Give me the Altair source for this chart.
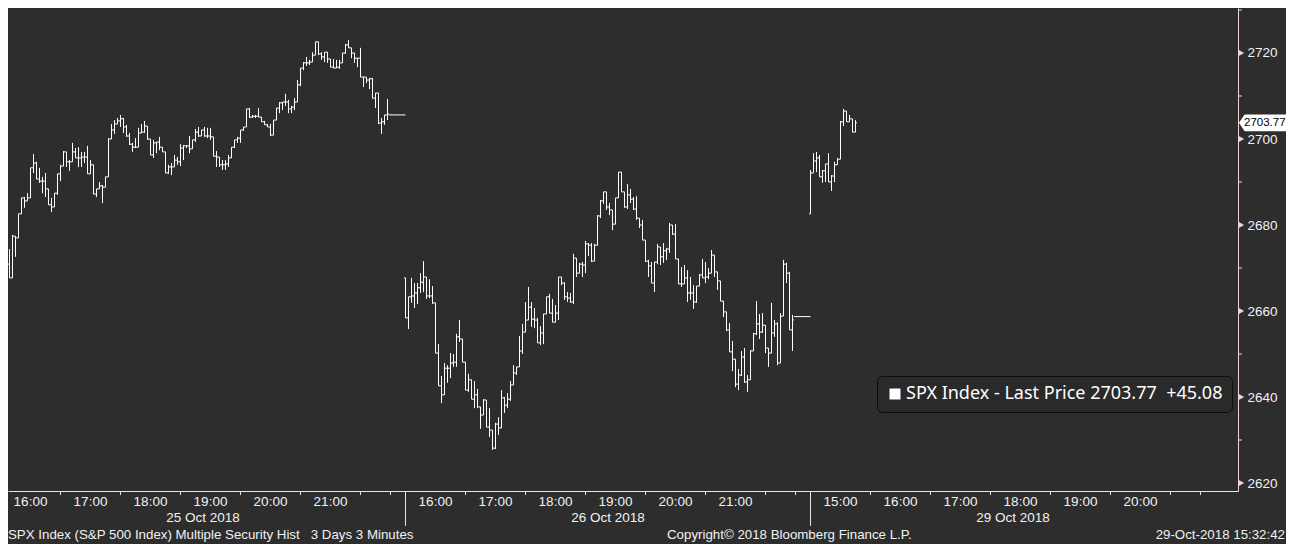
import altair as alt
import pandas as pd

# ---------------- data ----------------
DAYS = ["25 Oct 2018", "26 Oct 2018", "29 Oct 2018"]
DAY_START = ["15:30", "15:30", "14:30"]          # session start (local time)
DAY_OFFSET = [0, 405, 810]                       # minutes on the compressed time axis
BAR_MIN = 3

TIME_LABELS = [
    ["16:00", "17:00", "18:00", "19:00", "20:00", "21:00"],
    ["16:00", "17:00", "18:00", "19:00", "20:00", "21:00"],
    ["15:00", "16:00", "17:00", "18:00", "19:00", "20:00"],
]
TICK_TIMES = [
    ["16:30", "17:30", "18:30", "19:30", "20:30", "21:30", "22:00"],
    ["16:30", "17:30", "18:30", "19:30", "20:30", "21:30", "22:00"],
    ["15:30", "16:30", "17:30", "18:30", "19:30", "20:30", "21:00"],
]

D1_OPEN = 2675.3
D1_HIGH = [2680.5, 2676.5, 2676.5, 2674.4, 2677.7, 2677.2, 2682.6, 2686.3, 2686.5, 2687.4,
           2693.3, 2696.5, 2694.7, 2693.3, 2691.2, 2692.1, 2688.4, 2686.3, 2687.4, 2691.9,
           2694.0, 2697.2, 2697.0, 2695.1, 2699.1, 2697.9, 2698.1, 2697.0, 2697.0, 2698.4,
           2695.1, 2694.0, 2688.4, 2690.0, 2689.3, 2691.2, 2700.2, 2703.5, 2704.4, 2704.9,
           2705.6, 2704.9, 2703.3, 2701.4, 2699.1, 2700.2, 2702.6, 2703.5, 2704.2, 2703.0,
           2700.0, 2699.8, 2699.3, 2700.5, 2698.1, 2697.0, 2694.0, 2694.4, 2696.3, 2695.8,
           2698.8, 2698.6, 2698.6, 2700.7, 2699.8, 2702.3, 2702.8, 2702.1, 2702.8, 2702.6,
           2702.6, 2700.5, 2697.2, 2695.8, 2695.1, 2695.1, 2696.3, 2698.1, 2699.8, 2700.5,
           2702.1, 2702.8, 2707.0, 2707.2, 2705.6, 2705.6, 2707.2, 2705.1, 2704.2, 2703.5,
           2703.5, 2704.4, 2707.2, 2708.6, 2708.6, 2710.5, 2709.1, 2707.7, 2709.5, 2713.7,
           2716.5, 2717.9, 2719.1, 2718.4, 2720.2, 2722.6, 2722.6, 2720.2, 2720.2, 2720.2,
           2718.6, 2718.6, 2718.4, 2718.4, 2720.0, 2722.1, 2723.0, 2721.2, 2720.0, 2718.8,
           2721.2, 2714.4, 2714.4, 2714.2, 2714.2, 2710.7, 2710.7, 2704.9, 2705.6, 2709.3]
D1_LOW = [2671.4, 2668.1, 2670.7, 2667.7, 2667.7, 2672.6, 2677.0, 2682.6, 2684.0, 2685.6,
          2686.3, 2692.1, 2690.7, 2689.8, 2687.4, 2686.5, 2684.7, 2683.0, 2684.2, 2687.0,
          2690.2, 2693.7, 2693.5, 2692.6, 2694.7, 2695.6, 2693.5, 2693.5, 2694.4, 2691.9,
          2691.9, 2687.2, 2686.5, 2688.4, 2685.1, 2688.8, 2691.2, 2700.0, 2701.2, 2703.5,
          2702.8, 2701.4, 2700.5, 2698.6, 2697.0, 2697.9, 2698.1, 2701.4, 2701.4, 2699.8,
          2696.3, 2695.6, 2696.7, 2697.4, 2697.0, 2692.1, 2691.9, 2691.6, 2693.5, 2694.0,
          2693.7, 2695.1, 2697.9, 2696.7, 2697.7, 2699.3, 2700.5, 2700.7, 2700.5, 2700.2,
          2699.8, 2696.0, 2693.5, 2693.5, 2692.8, 2692.8, 2693.5, 2695.6, 2697.9, 2699.1,
          2699.1, 2701.9, 2702.8, 2704.9, 2704.9, 2704.9, 2705.1, 2704.0, 2703.3, 2702.8,
          2700.7, 2700.9, 2704.4, 2706.0, 2706.7, 2707.7, 2706.0, 2706.0, 2706.7, 2708.6,
          2712.3, 2716.0, 2717.0, 2717.2, 2717.9, 2719.5, 2719.5, 2718.4, 2717.9, 2717.7,
          2716.7, 2716.5, 2716.5, 2716.3, 2717.7, 2719.8, 2721.2, 2718.8, 2717.7, 2716.7,
          2714.4, 2712.1, 2713.0, 2711.6, 2709.5, 2707.2, 2703.5, 2701.2, 2703.3, 2704.4]
D1_CLOSE = [2673.5, 2673.7, 2670.9, 2667.7, 2677.4, 2677.0, 2682.6, 2686.3, 2685.6, 2686.3,
            2693.3, 2694.4, 2690.7, 2690.2, 2690.2, 2688.4, 2684.7, 2684.2, 2687.4, 2691.9,
            2693.7, 2697.0, 2694.7, 2694.7, 2697.0, 2695.6, 2695.6, 2695.8, 2695.8, 2691.9,
            2694.0, 2687.2, 2688.4, 2689.1, 2688.8, 2691.2, 2700.0, 2702.1, 2703.5, 2704.2,
            2704.7, 2702.8, 2700.7, 2698.8, 2698.1, 2698.1, 2701.4, 2701.6, 2703.0, 2700.0,
            2696.3, 2699.1, 2699.3, 2698.1, 2697.0, 2692.1, 2693.5, 2693.5, 2695.1, 2694.7,
            2697.9, 2698.4, 2698.4, 2697.7, 2699.8, 2701.6, 2700.7, 2702.1, 2700.7, 2700.7,
            2700.5, 2696.0, 2695.8, 2694.0, 2694.0, 2694.2, 2695.6, 2698.1, 2699.8, 2700.2,
            2702.1, 2702.8, 2707.0, 2705.1, 2705.3, 2705.3, 2705.1, 2704.0, 2703.3, 2702.8,
            2700.9, 2704.4, 2707.2, 2708.4, 2708.6, 2708.6, 2707.0, 2707.4, 2708.6, 2712.6,
            2716.5, 2717.7, 2717.7, 2717.9, 2719.5, 2722.6, 2719.8, 2719.1, 2720.2, 2718.6,
            2716.7, 2716.5, 2716.7, 2717.7, 2720.0, 2721.9, 2721.2, 2720.0, 2718.8, 2718.8,
            2714.4, 2714.4, 2713.7, 2714.0, 2709.5, 2710.7, 2703.7, 2704.0, 2705.6, 2705.8]

D2_OPEN = 2667.7
D2_HIGH = [2667.7, 2663.3, 2667.7, 2666.5, 2666.5, 2668.8, 2671.6, 2667.9, 2667.4, 2665.8,
           2661.9, 2652.3, 2644.9, 2647.9, 2647.4, 2650.2, 2650.0, 2654.7, 2657.9, 2653.5,
           2648.1, 2645.4, 2644.0, 2643.7, 2641.9, 2637.7, 2639.5, 2639.3, 2637.4, 2632.3,
           2634.0, 2635.3, 2641.6, 2640.0, 2640.9, 2643.7, 2647.4, 2647.0, 2654.2, 2657.0,
           2662.1, 2665.6, 2662.1, 2660.7, 2658.4, 2656.5, 2659.3, 2663.3, 2664.0, 2662.8,
           2661.4, 2667.9, 2667.9, 2666.7, 2664.4, 2664.2, 2673.3, 2672.3, 2671.2, 2671.4,
           2676.3, 2675.8, 2675.8, 2675.6, 2682.3, 2685.8, 2687.7, 2687.7, 2685.1, 2683.5,
           2686.3, 2692.3, 2692.3, 2687.7, 2689.5, 2688.4, 2686.5, 2686.7, 2681.6, 2681.2,
           2676.5, 2671.9, 2671.4, 2671.4, 2675.6, 2674.9, 2675.8, 2674.7, 2680.5, 2680.0,
           2680.2, 2672.1, 2670.2, 2670.7, 2669.5, 2667.9, 2666.0, 2665.8, 2668.6, 2672.1,
           2671.4, 2670.0, 2674.2, 2673.0, 2669.1, 2667.0, 2662.3, 2659.8, 2657.2, 2653.0,
           2648.8, 2646.5, 2650.7, 2651.4, 2645.1, 2650.9, 2654.9, 2662.3, 2659.3, 2659.5,
           2656.7, 2651.4, 2661.9, 2657.9, 2657.4, 2659.5, 2671.9, 2671.2, 2669.1, 2659.1]
D2_LOW = [2658.4, 2655.8, 2661.9, 2660.7, 2661.6, 2664.2, 2664.4, 2662.8, 2663.0, 2661.6,
          2650.2, 2642.6, 2638.6, 2640.5, 2643.3, 2644.4, 2647.0, 2647.0, 2652.8, 2648.1,
          2641.6, 2641.2, 2639.5, 2637.4, 2637.4, 2632.6, 2635.8, 2633.0, 2630.7, 2627.7,
          2627.9, 2631.2, 2632.8, 2636.3, 2637.4, 2639.1, 2642.8, 2645.1, 2647.0, 2650.0,
          2655.1, 2657.9, 2656.3, 2656.0, 2652.6, 2652.1, 2652.3, 2659.3, 2659.5, 2657.4,
          2657.4, 2657.9, 2666.0, 2662.6, 2662.1, 2661.9, 2661.6, 2667.9, 2668.8, 2667.9,
          2668.8, 2672.8, 2671.4, 2671.6, 2675.3, 2681.6, 2684.9, 2683.5, 2682.3, 2678.8,
          2680.2, 2686.3, 2687.7, 2684.0, 2683.7, 2685.1, 2683.5, 2681.2, 2679.3, 2676.5,
          2671.4, 2667.9, 2666.5, 2664.4, 2670.9, 2670.7, 2671.2, 2671.9, 2673.5, 2677.7,
          2672.1, 2666.3, 2665.6, 2666.3, 2662.1, 2662.6, 2660.5, 2661.9, 2665.8, 2667.7,
          2666.5, 2667.4, 2668.8, 2667.9, 2664.9, 2662.3, 2658.6, 2655.3, 2650.5, 2646.0,
          2642.3, 2641.6, 2644.9, 2643.3, 2641.2, 2644.0, 2650.7, 2654.4, 2653.5, 2654.9,
          2650.2, 2647.0, 2650.2, 2654.0, 2647.4, 2647.9, 2658.8, 2666.5, 2655.6, 2650.7]
D2_CLOSE = [2658.4, 2663.3, 2663.5, 2664.2, 2665.4, 2666.7, 2667.9, 2663.5, 2663.5, 2661.9,
            2650.2, 2642.6, 2640.5, 2646.7, 2646.7, 2647.9, 2648.1, 2654.0, 2653.5, 2648.1,
            2641.6, 2644.0, 2639.5, 2640.5, 2637.7, 2635.8, 2639.3, 2633.0, 2632.3, 2628.1,
            2633.7, 2632.8, 2639.8, 2638.1, 2639.5, 2642.8, 2645.6, 2647.0, 2650.7, 2655.1,
            2657.9, 2660.9, 2658.1, 2657.9, 2652.6, 2654.9, 2659.3, 2663.3, 2659.5, 2657.4,
            2659.5, 2667.9, 2666.5, 2663.3, 2663.0, 2662.1, 2672.3, 2668.8, 2670.9, 2670.7,
            2675.6, 2675.3, 2671.6, 2675.3, 2682.1, 2685.6, 2687.7, 2684.2, 2683.5, 2680.2,
            2686.3, 2692.3, 2687.7, 2684.2, 2687.0, 2686.0, 2683.7, 2681.6, 2680.0, 2676.5,
            2671.6, 2670.5, 2666.5, 2671.4, 2674.9, 2672.6, 2674.0, 2674.4, 2680.0, 2677.9,
            2672.1, 2666.3, 2666.3, 2667.7, 2664.2, 2664.2, 2662.1, 2665.8, 2668.4, 2667.7,
            2667.9, 2668.8, 2673.0, 2669.1, 2667.0, 2662.3, 2659.8, 2655.6, 2650.5, 2648.8,
            2643.0, 2645.1, 2649.3, 2643.5, 2644.0, 2650.7, 2654.7, 2657.0, 2655.1, 2656.7,
            2651.4, 2650.2, 2654.9, 2657.0, 2647.9, 2658.8, 2670.9, 2668.8, 2655.6, 2657.9]

D3_OPEN = 2682.6
D3_HIGH = [2692.8, 2696.7, 2697.0, 2696.3, 2692.8, 2694.2, 2696.7, 2691.6, 2694.7, 2695.6,
           2704.2, 2707.0, 2706.5, 2705.6, 2704.7, 2704.4]
D3_LOW = [2682.6, 2692.1, 2692.3, 2691.2, 2689.8, 2690.0, 2690.0, 2687.9, 2690.0, 2694.0,
          2695.3, 2703.0, 2704.0, 2704.0, 2701.6, 2701.6]
D3_CLOSE = [2692.1, 2694.9, 2695.6, 2691.2, 2692.6, 2694.2, 2690.0, 2691.4, 2694.0, 2695.3,
            2704.0, 2706.5, 2704.0, 2704.7, 2701.6, 2703.77]

SETTLE = [2705.6, 2658.7]                        # closing prints after each full session
LAST_PRICE = 2703.77
NET_CHANGE = "+45.08"
SERIES = f"SPX Index - Last Price {LAST_PRICE:.2f}\u00a0 {NET_CHANGE}"

Y_LABELS = [2620, 2640, 2660, 2680, 2700, 2720]
Y_MINOR = [2630, 2650, 2670, 2690, 2710, 2730]

FOOT_LEFT = "SPX Index (S&P 500 Index) Multiple Security Hist\u00a0\u00a0 3 Days 3 Minutes"
FOOT_MID = "Copyright\u00a9 2018 Bloomberg Finance L.P."
FOOT_RIGHT = "29-Oct-2018 15:32:42"

# ---------------- build tables ----------------
def hm(s):
    h, m = s.split(":")
    return int(h) * 60 + int(m)

days = [(D1_OPEN, D1_HIGH, D1_LOW, D1_CLOSE),
        (D2_OPEN, D2_HIGH, D2_LOW, D2_CLOSE),
        (D3_OPEN, D3_HIGH, D3_LOW, D3_CLOSE)]
rows = []
for d, (o0, hs, ls, cs) in enumerate(days):
    for i, (h, l, c) in enumerate(zip(hs, ls, cs)):
        o = o0 if i == 0 else cs[i - 1]
        t = DAY_OFFSET[d] + BAR_MIN * i
        rows.append(dict(t=t, t0=t - 1.5, t1=t + 1.5, open=o, close=c,
                         high=max(h, o, c), low=min(l, o, c), series=SERIES))
bars = pd.DataFrame(rows)

settle_rows = []
for d, p in enumerate(SETTLE):
    last_t = DAY_OFFSET[d] + BAR_MIN * (len(days[d][1]) - 1)
    settle_rows.append(dict(t0=last_t + 1.5, t1=DAY_OFFSET[d + 1], price=p))
settle = pd.DataFrame(settle_rows)

tl_rows, tk_rows, dt_rows = [], [], []
for d in range(3):
    s = hm(DAY_START[d])
    for lab in TIME_LABELS[d]:
        tl_rows.append(dict(t=DAY_OFFSET[d] + hm(lab) - s, label=lab))
    for tk in TICK_TIMES[d]:
        tk_rows.append(dict(t=DAY_OFFSET[d] + hm(tk) - s))
    dt_rows.append(dict(t=DAY_OFFSET[d] + 202.5, label=DAYS[d]))
time_labels = pd.DataFrame(tl_rows)
ticks = pd.DataFrame(tk_rows)
date_labels = pd.DataFrame(dt_rows)
seps = pd.DataFrame({"t": DAY_OFFSET[1:]})
ylab = pd.DataFrame({"v": Y_LABELS})
ymin = pd.DataFrame({"v": Y_MINOR})
last = pd.DataFrame({"v": [LAST_PRICE], "txt": [f"{LAST_PRICE:.2f}"]})

# ---------------- styling ----------------
BG = "#2d2d2d"
FG = "#f2f2f2"
PINK = "#f3d3d3"
FONT = "Liberation Sans"
LFONT = "Noto Sans"

X_SC = alt.Scale(domain=[7.5, 1237.5], nice=False, zero=False)
Y_SC = alt.Scale(domain=[2618.14, 2730.465], nice=False, zero=False)
X_AX = alt.Axis(title=None, labels=False, ticks=False, grid=False, domain=True,
                domainColor="#e6e6e6", domainWidth=1)
Y_AX = alt.Axis(title=None, orient="right", values=Y_LABELS, ticks=False, grid=False,
                domain=True, domainColor=PINK, domainWidth=1, labelColor=FG,
                labelFont=FONT, labelFontSize=13.5, labelPadding=9, format="d")

def X(f):
    return alt.X(f, type="quantitative", scale=X_SC, axis=X_AX)

def Y(f):
    return alt.Y(f, type="quantitative", scale=Y_SC, axis=Y_AX)

legend = alt.Legend(title=None, orient="none", legendX=869, legendY=368,
                    fillColor="#2a2a2a", strokeColor="#0c0c0c", cornerRadius=5,
                    padding=9, symbolType="square", symbolSize=121,
                    symbolFillColor="#ffffff", symbolStrokeColor="#ffffff",
                    symbolStrokeWidth=0, labelFont=LFONT, labelFontSize=18,
                    labelColor="#ffffff", labelLimit=800, labelOffset=2)

base = alt.Chart(bars)
hl = base.mark_rule(strokeWidth=1, clip=True).encode(
    x=X("t"), y=Y("low"), y2="high",
    color=alt.Color("series:N", scale=alt.Scale(range=["#ffffff"]), legend=legend))
op = base.mark_rule(strokeWidth=1, color="#ffffff", clip=True).encode(
    x=X("t0"), x2="t", y=Y("open"))
cl = base.mark_rule(strokeWidth=1, color="#ffffff", clip=True).encode(
    x=X("t"), x2="t1", y=Y("close"))
st = alt.Chart(settle).mark_rule(strokeWidth=1, color="#ffffff").encode(
    x=X("t0"), x2="t1", y=Y("price"))

minor = alt.Chart(ymin).mark_rule(color=PINK, strokeWidth=1).encode(
    y=Y("v"), x=alt.value(1230), x2=alt.value(1234))
tri = alt.Chart(ylab).mark_point(shape="triangle-right", filled=True, size=38,
                                 color=PINK, opacity=1).encode(
    y=Y("v"), x=alt.value(1233.5))
tag = alt.Chart(last).mark_point(
    shape="M -1 0 L -0.8 -0.3 L 1 -0.3 L 1 0.3 L -0.8 0.3 Z", size=3136,
    filled=True, color="#ffffff", opacity=1).encode(y=Y("v"), x=alt.value(1259))
tagtxt = alt.Chart(last).mark_text(font=FONT, fontSize=11.5, color="#000000",
                                   align="left", baseline="middle").encode(
    y=Y("v"), x=alt.value(1236), text="txt:N")

xt = alt.Chart(ticks).mark_rule(color="#e6e6e6", strokeWidth=1).encode(
    x=X("t"), y=alt.value(483), y2=alt.value(487))
sp = alt.Chart(seps).mark_rule(color="#e6e6e6", strokeWidth=1).encode(
    x=X("t"), y=alt.value(483), y2=alt.value(518))
tlab = alt.Chart(time_labels).mark_text(font=FONT, fontSize=13.5, color=FG,
                                        baseline="middle", align="center").encode(
    x=X("t"), y=alt.value(494), text="label:N")
dlab = alt.Chart(date_labels).mark_text(font=FONT, fontSize=13.5, color=FG,
                                        baseline="middle", align="center").encode(
    x=X("t"), y=alt.value(510), text="label:N")

def foot(txt, xpos, align):
    return alt.Chart(pd.DataFrame({"txt": [txt]})).mark_text(
        font=FONT, fontSize=13.3, color=FG, baseline="middle", align=align).encode(
        x=alt.value(xpos), y=alt.value(527), text="txt:N")

chart = alt.layer(
    hl, op, cl, st, minor, tri, tag, tagtxt, xt, sp, tlab, dlab,
    foot(FOOT_LEFT, 0, "left"), foot(FOOT_MID, 659, "left"), foot(FOOT_RIGHT, 1277, "right"),
).properties(
    width=1230, height=483,
    padding={"left": 0, "top": 0, "right": 48, "bottom": 53},
    autosize=alt.AutoSizeParams(type="none"),
    background=BG,
).configure_view(stroke=None)

chart.save("out.html", embed_options={"renderer": "svg", "actions": False})
